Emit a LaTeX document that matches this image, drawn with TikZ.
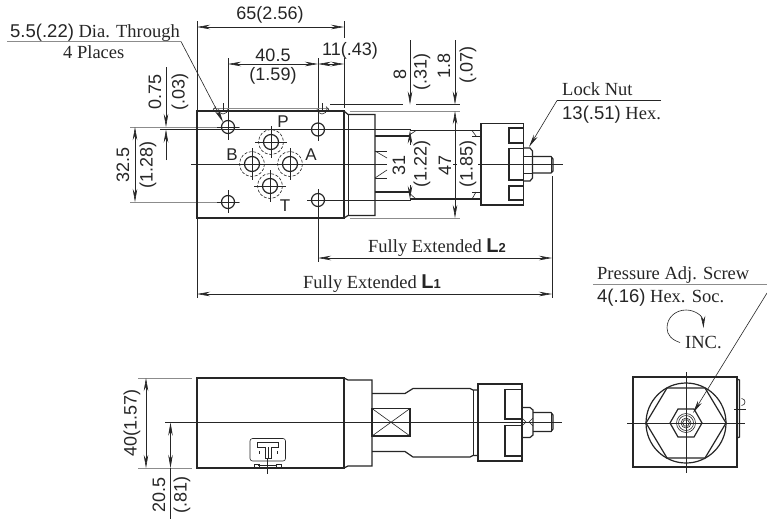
\documentclass[tikz,border=0pt]{standalone}
\usepackage{fontspec}
\setmainfont{Liberation Serif}
\newfontfamily\hv{Liberation Sans}
\usetikzlibrary{arrows.meta}
\newcommand{\sa}[1]{{\hv #1}}
\newcommand{\dimL}[1]{{\hv\bfseries\fontsize{20}{20}\selectfont L\fontsize{13}{13}\selectfont #1}}
\tikzset{
 thick line/.style={line width=1.2pt,draw=black!85},
 thin line/.style={line width=0.6pt,draw=black!85},
 gray line/.style={line width=1pt,draw=black!45},
 dim/.style={thin line,{Stealth[length=13pt,width=4.5pt]}-{Stealth[length=13pt,width=4.5pt]}},
 dimend/.style={thin line,-{Stealth[length=13pt,width=4.5pt]}},
 lab/.style={inner sep=0pt,font=\hv\fontsize{18}{20}\selectfont,text=black!85},
 vlab/.style={lab,rotate=90},
 txt/.style={inner sep=0pt,font=\fontsize{18.5}{20}\selectfont,text=black!85,anchor=base west},
 port/.style={lab,font=\hv\fontsize{17}{20}\selectfont},
 dashring/.style={line width=0.6pt,draw=black!85,dash pattern=on 3pt off 1.6pt},
}
\begin{document}
\begin{tikzpicture}[x=1pt,y=-1pt]
\useasboundingbox (0,0) rectangle (767,523);
\fill[white] (0,0) rectangle (767,523);

% ---------- top view: extension / centre lines
\draw[thin line] (197,21)--(197,298);
\draw[thin line] (344,21)--(344,38);
\draw[thin line] (344,58)--(344,108);
\draw[thin line] (228,58)--(228,140);
\draw[thin line] (318,58)--(318,140);
\draw[thin line] (228,190)--(228,213);
\draw[thin line] (318,190)--(318,262);
\draw[gray line,line width=.8pt] (130,127)--(240,127);
\draw[gray line,line width=.8pt] (130,202)--(240,202);
\draw[thin line] (160,129.5)--(411,129.5);
\draw[thin line] (310,200)--(411,200);
\draw[thin line] (191,164.5)--(387,164.5);
\draw[thin line] (453,164.5)--(457,164.5);
\draw[thin line] (478,164.5)--(563,164.5);
\draw[thin line] (552,176)--(552,298);

% body
\draw[thick line] (197,111) rectangle (344,218);
\draw[gray line] (213,108.5)--(329,108.5);
\draw[thin line] (213,110)--(216,106.5);
\draw[thin line] (326,106.5)--(329,110);
\draw[thin line] (218,109) arc[start angle=180,end angle=0,radius=5];
\draw[thin line] (317,109) arc[start angle=180,end angle=0,radius=5];
\draw[thin line] (223,103)--(223,111);
\draw[thin line] (322,103)--(322,111);
\draw[thick line] (344,111)--(348,114.5)--(375,114.5)--(375,215.5)--(348,215.5)--(344,218);
\draw[thin line] (348,114)--(348,216);
\draw[gray line] (350,111)--(460,111);
\draw[gray line] (350,218)--(460,218);
\draw[thin line] (330,104.5)--(403,104.5);
\draw[thin line] (416,104.5)--(460,104.5);

% holes
\foreach \p/\q in {228/127,318/129.5,228/202,318/200}{
 \draw[thick line] (\p,\q) circle[radius=6.5];
 \draw[thin line] (\p-11,\q)--(\p+11,\q);
 \draw[thin line] (\p,\q-11)--(\p,\q+11);
}
% ports
\foreach \p/\q in {271/142,252/164,290/164,270/186}{
 \draw[thick line] (\p,\q) circle[radius=7.5];
 \draw[dashring] (\p,\q) circle[radius=12.5];
 \draw[thin line] (\p-16,\q)--(\p+16,\q);
 \draw[thin line] (\p,\q-16)--(\p,\q+16);
}
\node[port] (pP) at (283,122) {P};
\node[port] (pB) at (232,155) {B};
\node[port] (pA) at (311,155) {A};
\node[port] (pT) at (285,206) {T};

% neck and cap
\draw[thick line] (375,136)--(410,136);
\draw[thick line] (375,192)--(410,192);
\draw[thin line] (375,151)--(387,151);
\draw[thin line] (375,178)--(387,178);
\draw[thin line] (375,151)--(387,158);
\draw[thin line] (375,178)--(387,170);
\draw[thick line] (410,130.5)--(481,130.5);
\draw[thick line] (410,199)--(481,199);
\draw[thin line] (408,136)--(416,130.5);
\draw[thin line] (408,192)--(416,199);
\draw[thin line] (472,136)--(481,136);
\draw[thin line] (472,192)--(481,192);
\draw[thin line] (472,130.5)--(476,136);
\draw[thin line] (472,199)--(476,192);
\draw[thick line] (481,123.5) rectangle (523.5,205);
\draw[thick line] (523.5,128)--(509,128)--(509,143)--(523.5,143);
\draw[thick line] (523.5,148.5)--(509,148.5)--(509,180)--(523.5,180);
\draw[thick line] (523.5,186)--(509,186)--(509,200)--(523.5,200);
\draw[thick line] (523.5,148)--(530,148)--(532.5,151)--(532.5,178)--(530,181)--(523.5,181);
\draw[thin line] (523.5,156)--(532.5,156);
\draw[thin line] (523.5,173)--(532.5,173);
\draw[thick line] (532.5,156.5)--(551,156.5)--(553,159)--(553,171)--(551,173)--(532.5,173);
\draw[thin line] (551,156.5)--(551,173);

% top view dimensions
\draw[dim] (197,27)--(344,27);
\node[lab] (d65) at (270,14.5) {65(2.56)};
\draw[dim] (228,64)--(318,64);
\node[lab] (d405) at (273,55) {40.5};
\node[lab] (d159) at (273,76) {(1.59)};
\draw[dim] (318,64)--(344,64);
\node[lab] (d11) at (350,50.5) {11(.43)};
\draw[dimend] (166,67)--(166,127);
\draw[dimend] (166,160)--(166,129.5);
\node[vlab] (d075) at (155,92) {0.75};
\node[vlab] (d03) at (180,92) {(.03)};
\draw[dim] (135,127)--(135,202);
\node[vlab] (d325) at (123,165) {32.5};
\node[vlab] (d128) at (148,165) {(1.28)};
\draw[dimend] (410,40)--(410,104.5);
\draw[dimend] (410,145)--(410,130.5);
\draw[dimend] (410,185)--(410,199);
\node[vlab] (d31) at (399,165) {31};
\node[vlab] (d8) at (400,74) {8};
\node[vlab] (d31b) at (422,72) {(.31)};
\node[vlab] (d122) at (422,164) {(1.22)};
\draw[dimend] (455,40)--(455,104.5);
\draw[dim] (455,111)--(455,218);
\node[vlab] (d18) at (444,66) {1.8};
\node[vlab] (d07) at (468,65) {(.07)};
\node[vlab] (d47) at (445,165) {47};
\node[vlab] (d185) at (468,164) {(1.85)};
\draw[dim] (318,258)--(552,258);
\draw[dim] (197,294)--(552,294);
\node[txt] (l2) at (368,252) {Fully Extended \dimL{2}};
\node[txt] (l1) at (303,288) {Fully Extended \dimL{1}};

% leaders and notes
\coordinate (hl) at (181,41.5);
\draw[gray line] (7,41.5)--(hl);
\draw[dimend] (hl)--(223,122);
\node[txt] (n1) at (10,37) {\sa{5.5(.22)} Dia. Through};
\node[txt] (n2) at (63,58) {4 Places};
\coordinate (ln) at (557,100.5);
\draw[thin line] (661,100.5)--(ln);
\draw[dimend] (ln)--(529,147);
\node[txt] (n3) at (562,95) {Lock Nut};
\node[txt] (n4) at (562,119) {\sa{13(.51)} Hex.};
\node[txt] (n5) at (597,279) {Pressure Adj. Screw};
\node[txt] (n6) at (597,302) {\sa{4(.16)} Hex. Soc.};
\draw[gray line] (593,284)--(767,284);
\coordinate (ps) at (767,293);
\draw[dimend] (ps)--(693,413);
\draw[thin line,-{Stealth[length=12pt,width=4.5pt]}] (680,342.5) .. controls (672,340) and (667,335) .. (667,328) .. controls (667,317) and (676,310) .. (686,310) .. controls (695,310) and (703,316) .. (703.5,328);
\node[txt] (inc) at (685,348) {INC.};

% ---------- lower left view
\draw[gray line,line width=.8pt] (138,378)--(192,378);
\draw[gray line,line width=.8pt] (138,468)--(192,468);
\draw[thin line] (165,422.5)--(562,422.5);
\draw[thick line] (197,378) rectangle (344,468);
\draw[thick line] (344,378)--(348,380)--(372,380)--(372,466)--(348,466)--(344,468);
\draw[thick line] (372,393.5)--(405,393.5)--(413,388.5)--(470,388.5)--(473,390)--(478,390);
\draw[thick line] (372,451.5)--(405,451.5)--(413,457)--(470,457)--(473,455.5)--(478,455.5);
\draw[thin line] (473,390)--(473,455.5);
\draw[thick line] (372,408.5) rectangle (410,436);
\draw[thin line] (372,408.5)--(410,436);
\draw[thin line] (372,436)--(410,408.5);
\draw[thick line] (478,384) rectangle (522,461);
\draw[thick line] (522,389.5)--(505,389.5)--(505,419)--(522,419);
\draw[thick line] (522,425.5)--(505,425.5)--(505,456)--(522,456);
\draw[thick line] (522,407.5)--(530,407.5)--(533,410)--(533,435)--(530,437.5)--(522,437.5);
\draw[thin line] (522,418)--(526,422)--(522,426);
\draw[thin line] (533,418)--(529,422)--(533,426);
\draw[thick line] (533,412.5)--(551,412.5)--(553,415)--(553,429)--(551,431.5)--(533,431.5);
\draw[thin line] (551,412.5)--(551,431.5);
\draw[dim] (146,378)--(146,468);
\draw[dim] (170.5,422.5)--(170.5,468);
\draw[thin line] (170.5,468)--(170.5,519);
\node[vlab] (d40) at (132,423) {40(1.57)};
\node[vlab] (d205) at (159,495) {20.5};
\node[vlab] (d81) at (182,495) {(.81)};
% name plate
\draw[thin line,rounded corners=2.5pt] (250,438.5) rectangle (285.5,461);
\draw[thin line] (257.5,442)--(278.5,442)--(278.5,447)--(271.5,447)--(271.5,458)--(265,458)--(265,447)--(257.5,447)--cycle;
\draw[thin line] (268,447)--(268,458);
\draw[thin line] (254,468)--(254,464)--(259,464)--(259,468);
\draw[thin line] (276,468)--(276,464)--(281,464)--(281,468);
\draw[thin line] (258,465)--(277,465);
\draw[thin line] (267.5,458)--(267.5,474);
\draw[thin line] (259,451)--(259,454);
\draw[thin line] (277,451)--(277,454);

% ---------- lower right view
\draw[thick line] (633,377) rectangle (737,467);
\draw[thick line] (686,423) circle[radius=40];
\draw[thick line] (646,423)--(667,388)--(705,388)--(726,423)--(705,458)--(667,458)--cycle;
\draw[thick line] (670,423)--(678,409)--(694,409)--(702,423)--(694,437)--(678,437)--cycle;
\draw[thin line] (686,423) circle[radius=9.5];
\draw[thin line] (686,423) circle[radius=7.5];
\draw[thin line] (686,423) circle[radius=5];
\draw[thin line] (682.5,423)--(684.2,420)--(687.8,420)--(689.5,423)--(687.8,426)--(684.2,426)--cycle;
\draw[thin line] (627,423)--(745,423);
\draw[thin line] (686,372)--(686,473);
\draw[thick line] (737,379)--(739.5,380)--(739.5,437)--(737,438);
\draw[thin line] (741.5,405.5) arc[start angle=90,end angle=-90,radius=3.5];
\draw[thin line] (734,409)--(746,409);
\end{tikzpicture}
\end{document}
